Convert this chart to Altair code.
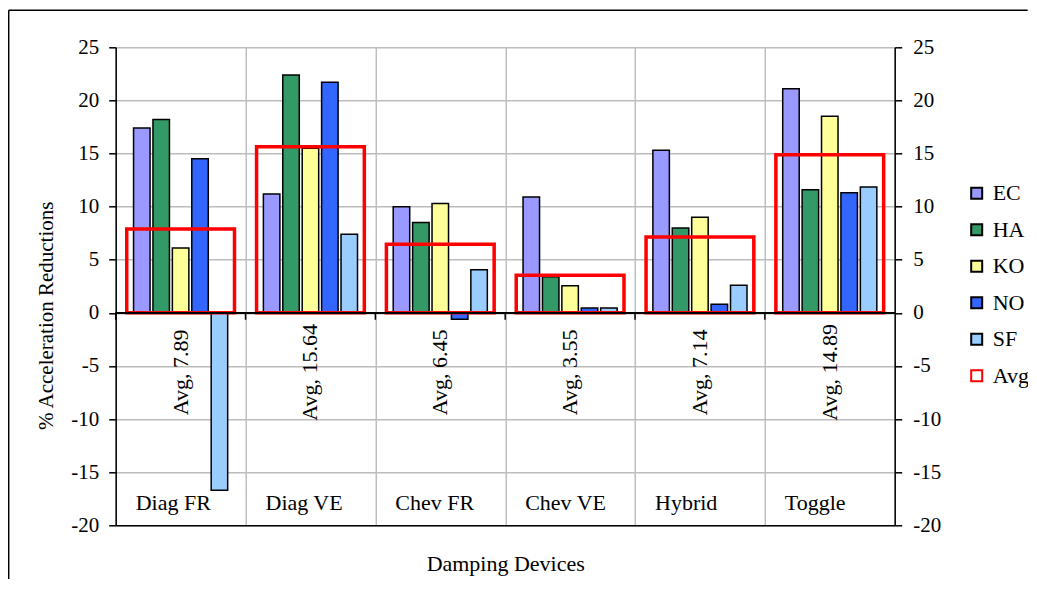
import altair as alt
import pandas as pd

# ---- data ----
devices = ["Diag FR", "Diag VE", "Chev FR", "Chev VE", "Hybrid", "Toggle"]
series_names = ["EC", "HA", "KO", "NO", "SF"]
ec = [17.4, 11.2, 10.0, 10.9, 15.3, 21.1]
ha = [18.2, 22.4, 8.5, 3.4, 8.0, 11.6]
ko = [6.1, 15.5, 10.3, 2.55, 9.0, 18.5]
no = [14.5, 21.7, -0.6, 0.45, 0.8, 11.3]
sf = [-16.7, 7.4, 4.05, 0.45, 2.6, 11.85]
avg = [7.89, 15.64, 6.45, 3.55, 7.14, 14.89]
y_ticks = [-20, -15, -10, -5, 0, 5, 10, 15, 20, 25]

rows = []
for i, d in enumerate(devices):
    for s, vals in zip(series_names, [ec, ha, ko, no, sf]):
        rows.append({"device": d, "series": s, "value": vals[i]})
bars_df = pd.DataFrame(rows)
avg_df = pd.DataFrame({"device": devices, "series": ["Avg"] * len(devices), "value": avg})
one_df = pd.DataFrame({"a": [0]})

legend_domain = series_names + ["Avg"]
fill_range = ["#9999FF", "#339966", "#FFFF99", "#3366FF", "#99CCFF", "#FFFFFF"]
stroke_range = ["#000000"] * 5 + ["#FF0000"]

FONT = "Liberation Serif"
W, H = 779, 478
PAD_L, PAD_T, PAD_R, PAD_B = 107.7, 39.3, 133, 54

x_scale = alt.Scale(domain=devices, paddingInner=0, paddingOuter=0)
y_scale = alt.Scale(domain=[-20, 25], nice=False, zero=False)
fill_scale = alt.Scale(domain=legend_domain, range=fill_range)
stroke_scale = alt.Scale(domain=legend_domain, range=stroke_range)

legend = alt.Legend(
    title=None, orient="none", legendX=850, legendY=135, padding=0,
    symbolType="square", symbolSize=121, symbolStrokeWidth=2,
    labelFont=FONT, labelFontSize=22, labelColor="black", labelOffset=5,
    rowPadding=14.5,
)

y_axis_left = alt.Axis(
    values=y_ticks, orient="left", title="% Acceleration Reductions",
    labelExpr="datum.value + ''",
    grid=True, gridColor="#bcbcbc", gridWidth=1.5,
    domainColor="black", domainWidth=1.5, tickColor="black", tickSize=7, tickWidth=1.5,
    labelPadding=10, labelFont=FONT, labelFontSize=21, labelColor="black",
    titleFont=FONT, titleFontSize=21, titleFontWeight="normal", titleColor="black",
    titleX=-69, titleY=268, titleBaseline="middle", titleAngle=270,
)
y_axis_right = alt.Axis(
    values=y_ticks, orient="right", title=None, grid=False,
    labelExpr="datum.value + ''",
    domainColor="black", domainWidth=1.5, tickColor="black", tickSize=7, tickWidth=1.5,
    labelPadding=11, labelFont=FONT, labelFontSize=21, labelColor="black",
)
x_axis = alt.Axis(
    orient="bottom", title="Damping Devices", labels=False, ticks=False,
    domain=True, domainColor="black", domainWidth=1.5,
    grid=True, gridColor="#a0a0a0", gridWidth=1, tickBand="extent",
    titleFont=FONT, titleFontSize=22, titleFontWeight="normal", titleColor="black",
    titlePadding=28,
)

bars = alt.Chart(bars_df).mark_bar(strokeWidth=1.5).encode(
    x=alt.X("device:N", scale=x_scale, axis=x_axis, sort=devices),
    xOffset=alt.XOffset("series:N", scale=alt.Scale(domain=series_names, paddingInner=0.15, paddingOuter=0.92)),
    y=alt.Y("value:Q", scale=y_scale, axis=y_axis_left),
    y2=alt.datum(0),
    fill=alt.Fill("series:N", scale=fill_scale, legend=legend),
    stroke=alt.Stroke("series:N", scale=stroke_scale, legend=legend),
)

avg_box = alt.Chart(avg_df).mark_bar(filled=False, strokeWidth=3.5, width=alt.RelativeBandSize(0.83)).encode(
    x=alt.X("device:N", scale=x_scale, sort=devices),
    y=alt.Y("value:Q", scale=y_scale, axis=None),
    y2=alt.datum(0),
    stroke=alt.Stroke("series:N", scale=stroke_scale, legend=legend),
)

zero_rule = alt.Chart(avg_df).transform_calculate(zero="0").mark_rule(color="black", strokeWidth=1.5).encode(
    y=alt.Y("zero:Q", scale=y_scale, axis=y_axis_right),
)

x_ticks = alt.Chart(avg_df).mark_rule(color="black", strokeWidth=1.5).encode(
    x=alt.X("device:N", scale=x_scale, sort=devices, bandPosition=0),
    y=alt.YDatum(0, axis=None),
    y2=alt.datum(-0.65),
)

cat_labels = alt.Chart(avg_df).mark_text(
    align="left", baseline="alphabetic", dx=20, dy=-15, font=FONT, fontSize=22, color="black"
).encode(
    x=alt.X("device:N", scale=x_scale, sort=devices, bandPosition=0),
    y=alt.YDatum(-20, axis=None),
    text="device:N",
)

avg_labels = alt.Chart(avg_df).transform_calculate(
    label="'Avg, ' + format(datum.value, '.2f')"
).mark_text(
    angle=270, align="center", baseline="middle", font=FONT, fontSize=22, color="black"
).encode(
    x=alt.X("device:N", scale=x_scale, sort=devices),
    y=alt.YDatum(-5.6, axis=None),
    text="label:N",
)

# outer chart frame (top and left edges, as in the reference)
frame_top = alt.Chart(one_df).mark_rule(color="black", strokeWidth=1.5, orient="horizontal").encode(
    x=alt.value(-107), x2=alt.value(W + PAD_R), y=alt.value(-37), y2=alt.value(-37)
)
frame_left = alt.Chart(one_df).mark_rule(color="black", strokeWidth=1.5, orient="vertical").encode(
    x=alt.value(-107), x2=alt.value(-107), y=alt.value(-37), y2=alt.value(H + PAD_B)
)

chart = alt.layer(
    bars, avg_box, zero_rule, x_ticks, cat_labels, avg_labels, frame_top, frame_left
).resolve_axis(y="independent").properties(
    width=W, height=H,
    autosize=alt.AutoSizeParams(type="none"),
    padding={"left": PAD_L, "top": PAD_T, "right": PAD_R, "bottom": PAD_B},
    background="white",
).configure_view(stroke=None)

chart.save("out.html", embed_options={"renderer": "svg", "actions": False})
